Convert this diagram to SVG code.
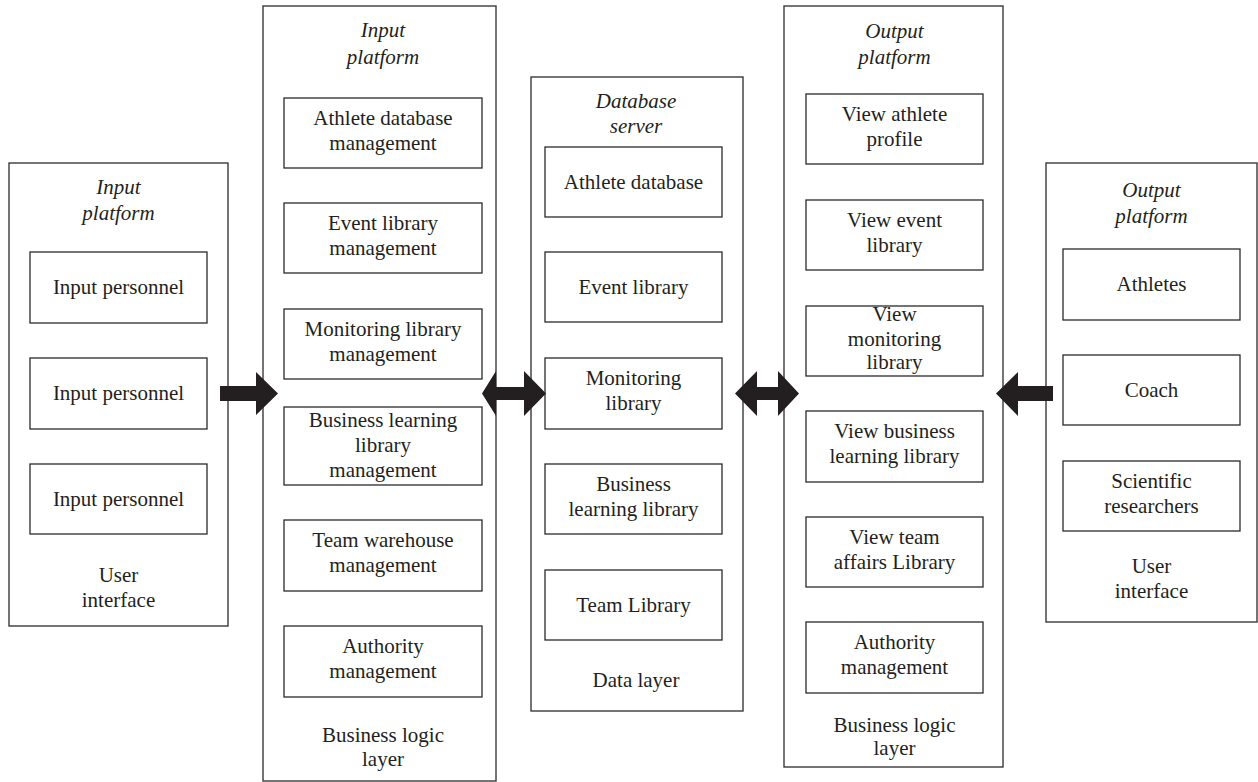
<svg xmlns="http://www.w3.org/2000/svg" width="1258" height="782" viewBox="0 0 1258 782">
<style>
.panel{fill:#fff;stroke:#3a3a3a;stroke-width:1.4}
.box{fill:#fff;stroke:#2a2a2a;stroke-width:1.3}
text{font-family:"Liberation Serif","Times New Roman",serif;font-size:21px;fill:#231f20;text-anchor:middle}
.it{font-style:italic}
.arr{fill:#231f20}
</style>
<rect width="1258" height="782" fill="#fff"/>

<g id="user-interface-left">
<rect class="panel" x="9" y="163" width="219" height="463"/>
<text class="it" x="118.5" y="194">Input</text>
<text class="it" x="118.5" y="220">platform</text>
<g id="ui-l-1"><rect class="box" x="30" y="252" width="177" height="71"/><text x="118.5" y="294">Input personnel</text></g>
<g id="ui-l-2"><rect class="box" x="30" y="358" width="177" height="71"/><text x="118.5" y="400">Input personnel</text></g>
<g id="ui-l-3"><rect class="box" x="30" y="464" width="177" height="70"/><text x="118.5" y="506">Input personnel</text></g>
<text x="118.5" y="582">User</text>
<text x="118.5" y="607">interface</text>
</g>

<g id="business-logic-input">
<rect class="panel" x="263" y="6" width="233" height="775"/>
<text class="it" x="383" y="37">Input</text>
<text class="it" x="383" y="64">platform</text>
<g id="bl-i-1"><rect class="box" x="284" y="98" width="198" height="70"/><text x="383" y="125">Athlete database</text><text x="383" y="150">management</text></g>
<g id="bl-i-2"><rect class="box" x="284" y="203" width="198" height="70"/><text x="383" y="230">Event library</text><text x="383" y="255">management</text></g>
<g id="bl-i-3"><rect class="box" x="284" y="309" width="198" height="70"/><text x="383" y="336">Monitoring library</text><text x="383" y="361">management</text></g>
<g id="bl-i-4"><rect class="box" x="284" y="407" width="198" height="78"/><text x="383" y="427">Business learning</text><text x="383" y="452">library</text><text x="383" y="477">management</text></g>
<g id="bl-i-5"><rect class="box" x="284" y="520" width="198" height="71"/><text x="383" y="547">Team warehouse</text><text x="383" y="572">management</text></g>
<g id="bl-i-6"><rect class="box" x="284" y="626" width="198" height="71"/><text x="383" y="653">Authority</text><text x="383" y="678">management</text></g>
<text x="383" y="742">Business logic</text>
<text x="383" y="766">layer</text>
</g>

<g id="data-layer">
<rect class="panel" x="531" y="77" width="212" height="634"/>
<text class="it" x="636" y="108">Database</text>
<text class="it" x="636" y="133">server</text>
<g id="dl-1"><rect class="box" x="545" y="147" width="177" height="70"/><text x="633.5" y="189">Athlete database</text></g>
<g id="dl-2"><rect class="box" x="545" y="252" width="177" height="70"/><text x="633.5" y="294">Event library</text></g>
<g id="dl-3"><rect class="box" x="545" y="358" width="177" height="71"/><text x="633.5" y="385">Monitoring</text><text x="633.5" y="410">library</text></g>
<g id="dl-4"><rect class="box" x="545" y="464" width="177" height="70"/><text x="633.5" y="491">Business</text><text x="633.5" y="516">learning library</text></g>
<g id="dl-5"><rect class="box" x="545" y="570" width="177" height="70"/><text x="633.5" y="612">Team Library</text></g>
<text x="636" y="687">Data layer</text>
</g>

<g id="business-logic-output">
<rect class="panel" x="784" y="6" width="219" height="761"/>
<text class="it" x="894.5" y="38">Output</text>
<text class="it" x="894.5" y="64">platform</text>
<g id="bl-o-1"><rect class="box" x="806" y="94" width="177" height="70"/><text x="894.5" y="121">View athlete</text><text x="894.5" y="146">profile</text></g>
<g id="bl-o-2"><rect class="box" x="806" y="200" width="177" height="70"/><text x="894.5" y="227">View event</text><text x="894.5" y="252">library</text></g>
<g id="bl-o-3"><rect class="box" x="806" y="306" width="177" height="70"/><text x="894.5" y="321">View</text><text x="894.5" y="346">monitoring</text><text x="894.5" y="369">library</text></g>
<g id="bl-o-4"><rect class="box" x="806" y="411" width="177" height="71"/><text x="894.5" y="438">View business</text><text x="894.5" y="463">learning library</text></g>
<g id="bl-o-5"><rect class="box" x="806" y="517" width="177" height="70"/><text x="894.5" y="544">View team</text><text x="894.5" y="569">affairs Library</text></g>
<g id="bl-o-6"><rect class="box" x="806" y="622" width="177" height="71"/><text x="894.5" y="649">Authority</text><text x="894.5" y="674">management</text></g>
<text x="894.5" y="732">Business logic</text>
<text x="894.5" y="755">layer</text>
</g>

<g id="user-interface-right">
<rect class="panel" x="1046" y="163" width="211" height="459"/>
<text class="it" x="1151.5" y="197">Output</text>
<text class="it" x="1151.5" y="223">platform</text>
<g id="ui-r-1"><rect class="box" x="1063" y="249" width="177" height="71"/><text x="1151.5" y="291">Athletes</text></g>
<g id="ui-r-2"><rect class="box" x="1063" y="355" width="177" height="70"/><text x="1151.5" y="397">Coach</text></g>
<g id="ui-r-3"><rect class="box" x="1063" y="461" width="177" height="70"/><text x="1151.5" y="488">Scientific</text><text x="1151.5" y="513">researchers</text></g>
<text x="1151.5" y="573">User</text>
<text x="1151.5" y="598">interface</text>
</g>

<g id="connectors">
<polygon class="arr" points="220,386 256,386 256,372 278,393.5 256,415 256,401 220,401"/>
<polygon class="arr" points="482,393.5 496,371 496,387 524,387 524,371 546,393.5 524,416 524,400 496,400 496,416"/>
<polygon class="arr" points="735,393.5 757,371 757,387 778,387 778,371 799,393.5 778,416 778,400 757,400 757,416"/>
<polygon class="arr" points="1053,386 1018,386 1018,372 996,393.5 1018,416 1018,401 1053,401"/>
</g>
</svg>
